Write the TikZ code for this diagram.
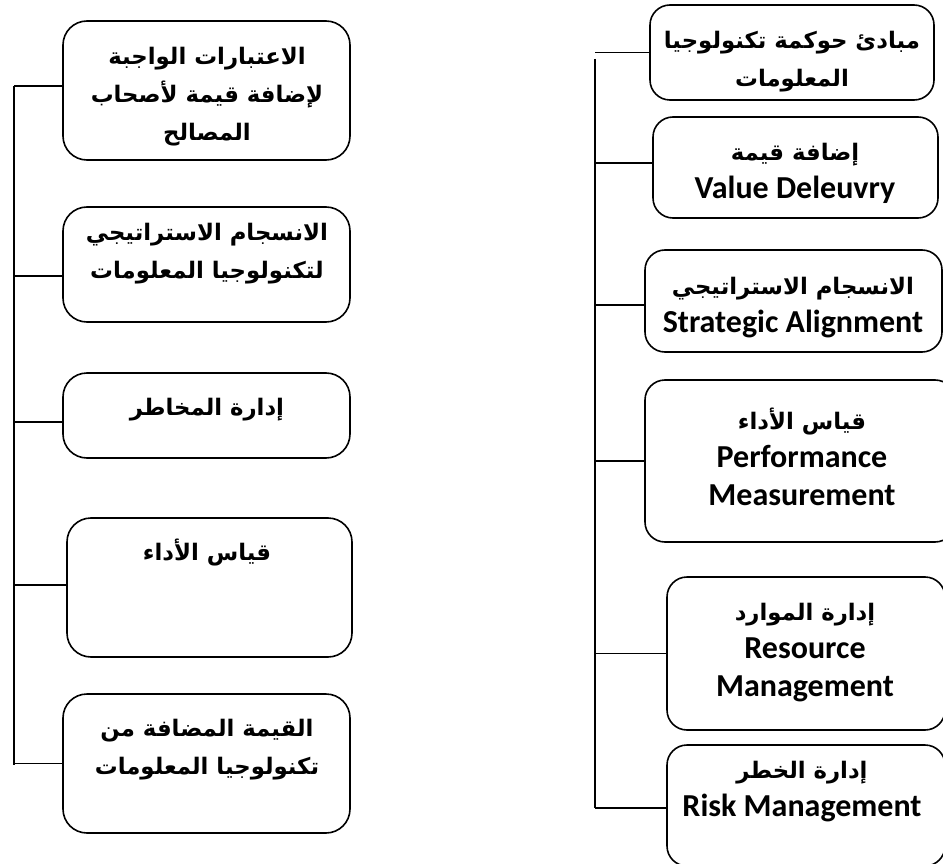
\documentclass[tikz,border=0pt]{standalone}
\usepackage{fontspec}
\setmainfont{Carlito}
\newfontfamily\arabicfont[Script=Arabic]{DejaVu Sans}
\TeXXeTstate=1
\usetikzlibrary{positioning}
\newcommand{\arline}[1]{{\arabicfont\fontsize{22.8}{37}\selectfont\beginR #1\endR}}

\begin{document}
\begin{tikzpicture}[x=1pt, y=-1pt,
  font=\bfseries\fontsize{32}{38}\selectfont,
  box/.style={draw, line width=1.6pt, rounded corners=24pt, inner sep=0pt},
  rbox/.style={box, rounded corners=20pt},
  txt/.style={align=center, inner sep=0pt},
  link/.style={line width=1.5pt}]
\path[use as bounding box, clip] (0,0) rectangle (943,864);
% ---- left column ----
\node[box, minimum width=287pt, minimum height=139pt] (L1) at (206.5,90.5) {};
\node[box, minimum width=287pt, minimum height=115pt] (L2) at (206.5,264.5) {};
\node[box, minimum width=287pt, minimum height=85pt] (L3) at (206.5,415.5) {};
\node[box, minimum width=285pt, minimum height=139pt] (L4) at (209.5,587.5) {};
\node[box, minimum width=287pt, minimum height=139pt] (L5) at (206.5,763.5) {};
\node[txt] (L1t) at (207,97)
  {\arline{الاعتبارات الواجبة}\\\arline{لإضافة قيمة لأصحاب}\\\arline{المصالح}};
\node[txt] (L2t) at (207,254)
  {\arline{الانسجام الاستراتيجي}\\\arline{لتكنولوجيا المعلومات}};
\node[txt] (L3t) at (207,410) {\arline{إدارة المخاطر}};
\node[txt] (L4t) at (207,553) {\arline{قياس الأداء}};
\node[txt] (L5t) at (207,750)
  {\arline{القيمة المضافة من}\\\arline{تكنولوجيا المعلومات}};
\coordinate (ltop) at (14,86);
\coordinate (lbot) at (14,765);
\draw[link] (ltop) -- (lbot);
\coordinate (lt1) at ([yshift=4.5pt]L1.west);
\coordinate (lt2) at ([yshift=-11.5pt]L2.west);
\coordinate (lt3) at ([yshift=-6.5pt]L3.west);
\coordinate (lt4) at ([yshift=2.5pt]L4.west);
\draw[link] (lt1) -- (lt1 -| ltop);
\draw[link] (lt2) -- (lt2 -| ltop);
\draw[link] (lt3) -- (lt3 -| ltop);
\draw[link] (lt4) -- (lt4 -| ltop);
\draw[link] (L5.west) -- (L5.west -| ltop);
% ---- right column ----
\node[rbox, minimum width=284pt, minimum height=95pt] (R1) at (792,52.5) {};
\node[rbox, minimum width=285pt, minimum height=101pt] (R2) at (795.5,167.5) {};
\node[rbox, minimum width=297pt, minimum height=102pt] (R3) at (793.5,301) {};
\node[rbox, minimum width=310pt, minimum height=162pt] (R4) at (800,461) {};
\node[rbox, minimum width=278pt, minimum height=153pt] (R5) at (806,653.5) {};
\node[rbox, minimum width=278pt, minimum height=121pt] (R6) at (806,805.5) {};
\node[txt] (R1t) at (792,62)
  {\arline{مبادئ حوكمة تكنولوجيا}\\\arline{المعلومات}};
\node[txt] (R2t) at (795,173.5) {\arline{إضافة قيمة}\\Value Deleuvry};
\node[txt] (R3t) at (793,308) {\arline{الانسجام الاستراتيجي}\\Strategic Alignment};
\node[txt] (R4t) at (802,457) {\arline{قياس الأداء}\\Performance\\Measurement};
\node[txt] (R5t) at (805,653) {\arline{إدارة الموارد}\\Resource\\Management};
\node[txt] (R6t) at (802,791.5) {\arline{إدارة الخطر}\\Risk Management};
\coordinate (rtop) at (595,59);
\coordinate (rbot) at (595,808);
\draw[link] (rtop) -- (rbot);
\coordinate (rt2) at ([yshift=4.5pt]R2.west);
\coordinate (rt3) at ([yshift=-4pt]R3.west);
\coordinate (rt6) at ([yshift=-2.5pt]R6.west);
\draw[link] (R1.west) -- (R1.west -| rtop);
\draw[link] (rt2) -- (rt2 -| rtop);
\draw[link] (rt3) -- (rt3 -| rtop);
\draw[link] (R4.west) -- (R4.west -| rtop);
\draw[link] (R5.west) -- (R5.west -| rtop);
\draw[link] (rt6) -- (rt6 -| rtop);
\end{tikzpicture}
\end{document}
